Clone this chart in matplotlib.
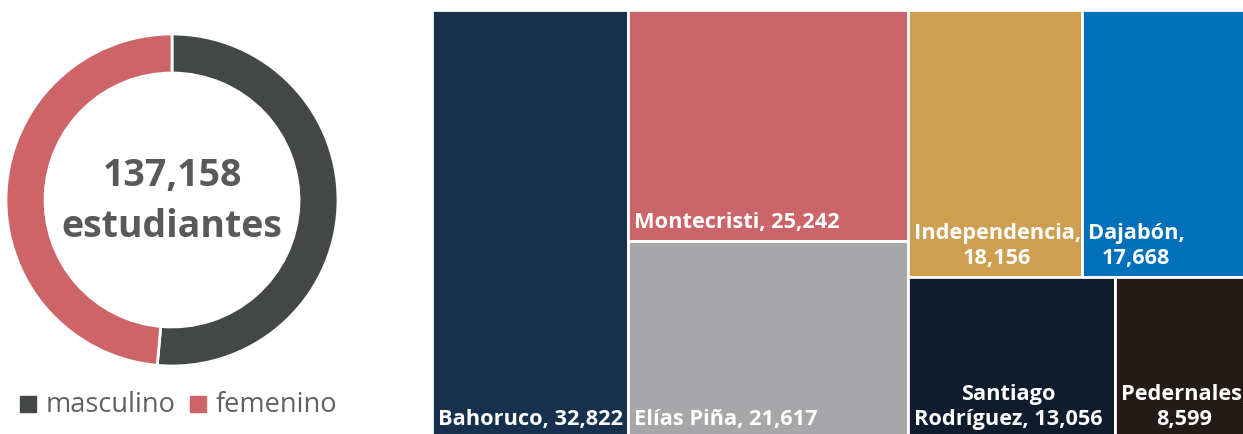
import matplotlib.pyplot as plt
from matplotlib.patches import Rectangle

plt.rcParams['font.family'] = ['Open Sans', 'DejaVu Sans']

# donut data
genders = ['masculino', 'femenino']
gender_counts = [70520, 66638]
gender_colors = ['#434846', '#CD6467']
total_students = 137158

# treemap data
provinces = ['Bahoruco', 'Montecristi', 'Elías Piña', 'Independencia',
             'Dajabón', 'Santiago Rodríguez', 'Pedernales']
students = [32822, 25242, 21617, 18156, 17668, 13056, 8599]
prov_colors = ['#17304E', '#CC6569', '#A7A7A9', '#CF9F51',
               '#0070BA', '#0E1C2E', '#241A17']
# grouping of the tiles: columns, then rows inside the last column
groups = [[0], [1, 2], [[3, 4], [5, 6]]]

W, H = 1243, 434
fig = plt.figure(figsize=(W / 100, H / 100), dpi=100)

# ---- donut ----
cx, cy, r = 172, 200, 166
ax1 = fig.add_axes([(cx - r) / W, (H - cy - r) / H, 2 * r / W, 2 * r / H])
ax1.pie(gender_counts, colors=gender_colors, startangle=90, counterclock=False,
        radius=1, wedgeprops=dict(width=0.235, edgecolor='white', linewidth=2))
ax1.set_xlim(-1, 1)
ax1.set_ylim(-1, 1)
ax1.set_aspect('auto')
ax1.text(0, -0.01, '{:,}\nestudiantes'.format(total_students), ha='center', va='center',
         fontsize=27, fontweight='bold', color='#595959', linespacing=1.45)

# legend under the donut
x = 20
for name, col in zip(genders, gender_colors):
    fig.patches.append(Rectangle((x / W, (H - 412) / H), 16 / W, 16 / H,
                                 color=col, transform=fig.transFigure))
    fig.text((x + 26) / W, (H - 405) / H, name, ha='left', va='center',
             fontsize=19.5, color='#606060')
    x += 170

# ---- treemap ----
# the tiles run a little past the right and bottom edges of the picture
TW, TH = 819, 428
ax2 = fig.add_axes([432 / W, (H - 10 - TH) / H, TW / W, TH / H])
ax2.set_xlim(0, TW)
ax2.set_ylim(TH, 0)
ax2.axis('off')


def total(node):
    if isinstance(node, list):
        return sum(total(n) for n in node)
    return students[node]


rects = {}


def layout(node, x0, y0, w, h, depth):
    if not isinstance(node, list):
        rects[node] = (x0, y0, w, h)
        return
    s = total(node)
    pos = 0
    for child in node:
        frac = total(child) / s
        if depth % 2 == 0:
            layout(child, x0 + pos * w, y0, frac * w, h, depth + 1)
        else:
            layout(child, x0, y0 + pos * h, w, frac * h, depth + 1)
        pos += frac


layout(groups, 0, 0, TW, TH, 0)

renderer = fig.canvas.get_renderer()
FS = 15.7


def wrap(words, maxw):
    lines = []
    cur = ''
    for wd in words:
        trial = wd if not cur else cur + ' ' + wd
        tmp = ax2.text(0, 0, trial, fontsize=FS, fontweight='bold')
        width = tmp.get_window_extent(renderer).width
        tmp.remove()
        if width > maxw and cur:
            lines.append(cur)
            cur = wd
        else:
            cur = trial
    lines.append(cur)
    return '\n'.join(lines)


for i, name in enumerate(provinces):
    x0, y0, w, h = rects[i]
    ax2.add_patch(Rectangle((x0, y0), w, h, facecolor=prov_colors[i],
                            edgecolor='white', linewidth=2))
    label = wrap('{}, {:,}'.format(name, students[i]).split(' '), w - 10)
    ax2.text(x0 + 6, y0 + h - 8, label, ha='left', va='bottom', multialignment='center',
             fontsize=FS, fontweight='bold', color='white', linespacing=1.25)

fig.savefig('out.png', dpi=100)
